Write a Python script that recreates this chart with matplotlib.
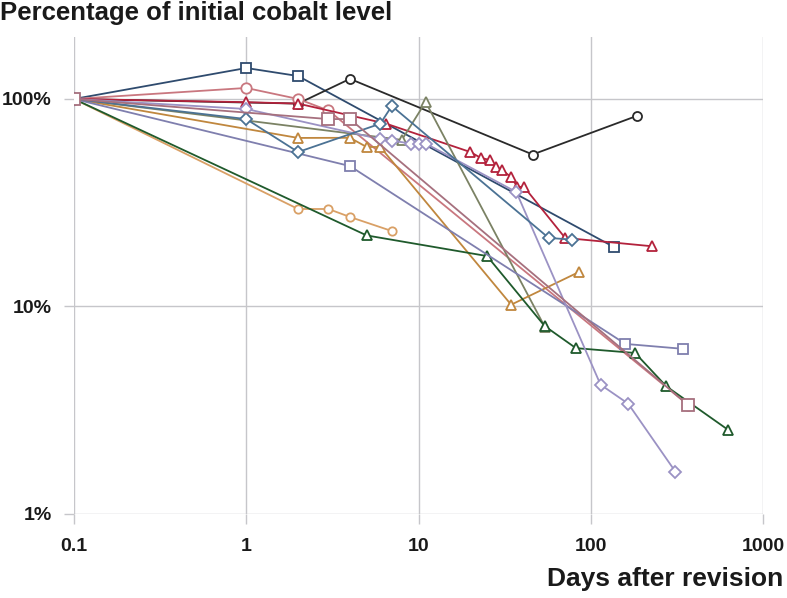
import matplotlib
matplotlib.use("Agg")
import matplotlib.pyplot as plt
from matplotlib.ticker import FixedLocator, NullLocator

plt.rcParams['font.family'] = ['Liberation Sans', 'DejaVu Sans']

# Days after revision / percentage of initial cobalt level, one list per patient
a_x = [0.1, 1, 2, 137]
a_y = [100, 141, 129, 19.3]
b_x = [0.1, 2, 4, 46, 186]
b_y = [100, 95, 125, 54, 83]
c_x = [0.1, 1, 2, 3, 368]
c_y = [100, 113, 100, 88, 3.35]
d_x = [0.1, 1, 2, 6.5, 20, 23, 26, 28, 30.5, 34.5, 37.5, 41, 71, 228]
d_y = [100, 96.5, 95, 76, 55.5, 52, 50.8, 47, 45.5, 42, 37.7, 37.7, 21.4, 19.5]
e_x = [0.1, 8, 11, 54]
e_y = [100, 63.5, 96.7, 8.0]
f_x = [0.1, 2, 4, 5, 6, 34.5, 86]
f_y = [100, 64.9, 65, 58.7, 58.7, 10.2, 14.7]
g_x = [0.1, 2, 3, 4, 7]
g_y = [100, 29.5, 29.5, 27, 23.1]
h_x = [0.1, 5, 25, 54, 82, 181, 274, 629]
h_y = [100, 22, 17.5, 8.05, 6.3, 5.97, 4.13, 2.54]
i_x = [0.1, 4, 159, 344]
i_y = [100, 47.5, 6.6, 6.25]
j_x = [0.1, 1, 6, 7, 9, 10, 11, 37, 114, 165, 310]
j_y = [100, 89.5, 64, 63, 61, 61, 61, 35.6, 4.2, 3.4, 1.6]
k_x = [0.1, 1, 2, 6, 7, 57, 78]
k_y = [100, 80, 55.5, 76, 92.5, 21.4, 21]
l_x = [0.1, 3, 4, 368]
l_y = [100, 80, 80, 3.35]

series = [
    (a_x, a_y, '#2f4b6e', 's', 7),
    (b_x, b_y, '#2a2a2a', 'o', 6.5),
    (c_x, c_y, '#c9777f', 'o', 7.5),
    (d_x, d_y, '#b3223c', '^', 6.5),
    (e_x, e_y, '#7b8264', '^', 6.5),
    (f_x, f_y, '#c0873e', '^', 6.5),
    (g_x, g_y, '#d9a066', 'o', 6),
    (h_x, h_y, '#1f5a2c', '^', 6.5),
    (i_x, i_y, '#7f7fae', 's', 7),
    (j_x, j_y, '#9b92c4', 'D', 6),
    (k_x, k_y, '#4b7294', 'D', 6),
    (l_x, l_y, '#a6707e', 's', 8.5),
]

fig = plt.figure(figsize=(7.87, 5.98), dpi=100)
ax = fig.add_axes([74/787, 1-514/598, (763-74)/787, (514-36.5)/598])

for xs, ys, col, mk, ms in series:
    ax.plot(xs, ys, color=col, lw=1.3, marker=mk, ms=ms,
            mfc='white', mec=col, mew=1.3, zorder=3)

ax.set_xscale('log')
ax.set_yscale('log')
ax.set_xlim(0.1, 1000)
ax.set_ylim(1, 200)

ax.xaxis.set_major_locator(FixedLocator([0.1, 1, 10, 100, 1000]))
ax.xaxis.set_minor_locator(NullLocator())
ax.yaxis.set_major_locator(FixedLocator([1, 10, 100]))
ax.yaxis.set_minor_locator(NullLocator())
ax.set_xticklabels(['0.1', '1', '10', '100', '1000'])
ax.set_yticklabels(['1%', '10%', '100%'])

for s in ax.spines.values():
    s.set_visible(False)
ax.grid(True, color='#c6c6ca', lw=1.0, zorder=0)
ax.tick_params(axis='both', length=7, width=1.0, color='#c6c6ca',
               labelsize=14)
ax.tick_params(axis='x', pad=10)
ax.tick_params(axis='y', pad=9)
for lab in ax.get_xticklabels() + ax.get_yticklabels():
    lab.set_fontweight('bold')
    lab.set_color('#1a1a1a')
ax.set_axisbelow(True)

fig.text(0.0, 0.998, 'Percentage of initial cobalt level', ha='left', va='top',
         fontsize=18.5, fontweight='bold', color='#1a1a1a')
fig.text(0.995, 0.012, 'Days after revision', ha='right', va='bottom',
         fontsize=19, fontweight='bold', color='#1a1a1a')

fig.savefig('out.png', dpi=100)
